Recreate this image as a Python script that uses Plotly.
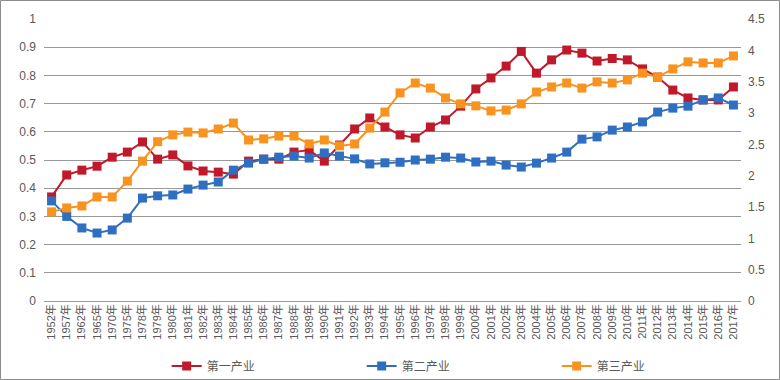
import plotly.graph_objects as go

years = ["1952年", "1957年", "1962年", "1965年", "1970年", "1975年", "1978年"] + [f"{y}年" for y in range(1979, 2018)]

primary = [0.369, 0.447, 0.464, 0.478, 0.510, 0.528, 0.564, 0.503, 0.518, 0.479,
           0.461, 0.457, 0.450, 0.496, 0.503, 0.503, 0.528, 0.535, 0.496, 0.553,
           0.610, 0.649, 0.617, 0.589, 0.578, 0.617, 0.642, 0.691, 0.752, 0.791,
           0.833, 0.885, 0.808, 0.855, 0.890, 0.879, 0.851, 0.860, 0.855, 0.823,
           0.794, 0.748, 0.720, 0.713, 0.713, 0.759]
secondary = [0.355, 0.300, 0.259, 0.241, 0.252, 0.294, 0.365, 0.373, 0.376, 0.397,
             0.411, 0.422, 0.464, 0.489, 0.503, 0.510, 0.514, 0.507, 0.525, 0.514,
             0.504, 0.486, 0.490, 0.492, 0.500, 0.503, 0.510, 0.507, 0.493, 0.496,
             0.482, 0.475, 0.489, 0.507, 0.528, 0.574, 0.582, 0.606, 0.617, 0.635,
             0.670, 0.684, 0.691, 0.713, 0.720, 0.695]
tertiary = [0.316, 0.330, 0.337, 0.369, 0.369, 0.425, 0.496, 0.565, 0.589, 0.599,
            0.596, 0.610, 0.631, 0.571, 0.575, 0.585, 0.585, 0.557, 0.571, 0.550,
            0.557, 0.613, 0.670, 0.738, 0.773, 0.755, 0.720, 0.699, 0.692, 0.674,
            0.677, 0.699, 0.741, 0.759, 0.773, 0.755, 0.777, 0.773, 0.784, 0.808,
            0.794, 0.823, 0.848, 0.844, 0.844, 0.869]

series_names = ["第一产业", "第二产业", "第三产业"]
series_colors = ["#c0192b", "#2f6fc1", "#f7931e"]
series_values = [primary, secondary, tertiary]

FONT = "Liberation Sans, Noto Sans CJK SC, sans-serif"
fig = go.Figure()
for name, color, vals in zip(series_names, series_colors, series_values):
    fig.add_trace(go.Scatter(
        x=years, y=vals, name=name, mode="lines+markers",
        line=dict(color=color, width=2),
        marker=dict(symbol="square", size=9, color=color),
    ))
# holder so the right-hand (secondary) axis is drawn; it carries no marks
fig.add_trace(go.Scatter(x=[years[0]], y=[None], yaxis="y2", showlegend=False,
                         hoverinfo="skip", mode="lines"))

fig.update_layout(
    width=780, height=380,
    margin=dict(l=44, r=39, t=19, b=79, autoexpand=False),
    paper_bgcolor="white", plot_bgcolor="rgba(0,0,0,0)",
    font=dict(family=FONT, size=12, color="#595959"),
    showlegend=True,
    legend=dict(orientation="h", x=0.176, xanchor="left", y=-0.2305, yanchor="middle",
                entrywidth=150, entrywidthmode="pixels", bgcolor="rgba(0,0,0,0)",
                font=dict(family="Noto Sans CJK SC, sans-serif", size=12, color="#595959"),
                traceorder="normal"),
    xaxis=dict(type="category", tickangle=-90, showgrid=False, showline=False,
               range=[-0.5, len(years) - 0.5],
               ticks="", automargin=False, tickfont=dict(size=11, color="#595959")),
    yaxis=dict(range=[0, 1], dtick=0.1, showgrid=True, automargin=False,
               gridcolor="#999999", gridwidth=1, zeroline=True, zerolinecolor="#999999",
               zerolinewidth=1, ticks="", ticklabelstandoff=7,
               tickfont=dict(size=12, color="#595959")),
    yaxis2=dict(range=[0, 4.5], dtick=0.5, overlaying="y", side="right", automargin=False,
                showgrid=False, zeroline=False, ticks="", ticklabelstandoff=6,
                tickfont=dict(size=12, color="#595959")),
    shapes=[dict(type="rect", xref="paper", yref="paper",
                 x0=-43.5/697, x1=(779.5-44)/697, y0=(301-379.5)/282, y1=(301-0.5)/282,
                 line=dict(color="#8c8c8c", width=1), fillcolor="rgba(0,0,0,0)")],
)
fig.write_html("out.html", config={"displayModeBar": False},
               post_script="document.body.style.margin='0';")
